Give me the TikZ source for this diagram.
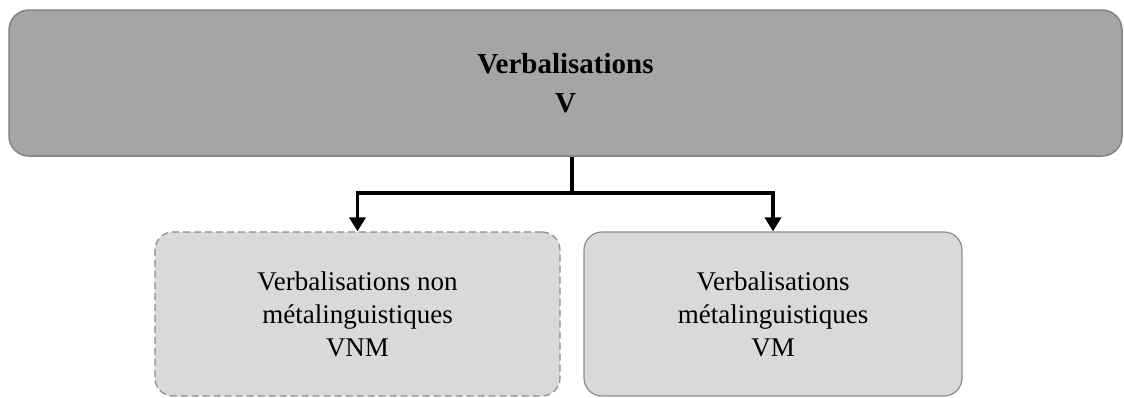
\documentclass[tikz,border=0pt]{standalone}
\usepackage{fontspec}
\setmainfont{Liberation Serif}
\usetikzlibrary{arrows.meta}
\definecolor{topfill}{HTML}{A5A5A5}
\definecolor{topline}{HTML}{828282}
\definecolor{subfill}{HTML}{D9D9D9}
\definecolor{subline}{HTML}{8C8C8C}
\tikzset{
    topbox/.style={draw=topline, fill=topfill, line width=1.5pt, rounded corners=20pt,
        minimum width=1113pt, minimum height=146pt, align=center,
        font=\bfseries\fontsize{29}{39}\selectfont},
    subbox/.style={draw=subline, fill=subfill, line width=1.2pt, rounded corners=18pt,
        minimum height=164pt, align=center, font=\fontsize{27}{33}\selectfont,
        execute at begin node={\vspace*{12pt}}},
    link/.style={line width=3.5pt, draw=black},
    linkarrow/.style={link, -{Triangle[width=16pt,length=14pt]}}
}
\begin{document}
\begin{tikzpicture}[x=1pt, y=-1pt]
    \useasboundingbox (0, 0) rectangle (1124, 397);
    \node[topbox] (v) at (565.5, 83) {Verbalisations\\V};
    \node[subbox, dashed, dash pattern=on 7pt off 4pt, minimum width=405pt] (vnm) at (357.5, 314)
        {Verbalisations non\\métalinguistiques\\VNM};
    \node[subbox, minimum width=378pt] (vm) at (773, 314)
        {Verbalisations\\métalinguistiques\\VM};
    \coordinate (split) at (572, 193);
    \draw[link] (v.south -| split) -- (split);
    \draw[linkarrow] ([xshift=1.75pt]split) -| (vnm.north);
    \draw[linkarrow] ([xshift=-1.75pt]split) -| (vm.north);
\end{tikzpicture}
\end{document}
